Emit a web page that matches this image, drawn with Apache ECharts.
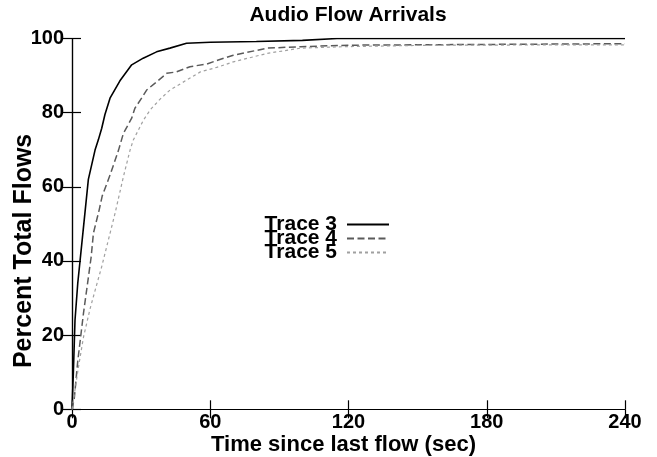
<!DOCTYPE html>
<html>
<head>
<meta charset="utf-8">
<script src="https://cdn.jsdelivr.net/npm/echarts@6/dist/echarts.min.js"></script>
<style>
html,body{margin:0;padding:0;background:#fff;}
#c{width:657px;height:457px;}
</style>
</head>
<body>
<div id="c"></div>
<script>
const xTicks = [0, 60, 120, 180, 240];
const yTicks = [0, 20, 40, 60, 80, 100];
const seriesNames = ['Trace 3', 'Trace 4', 'Trace 5'];

const trace3Time = [0, 0.6, 1.3, 2.5, 4.8, 7.1, 10, 11.4, 12.9, 14.3, 16.5, 20.8, 25.9, 30.9, 36.7, 42.5, 49.7, 60, 80, 100, 115, 240];
const trace3Pct  = [0, 10, 24, 34, 48, 62, 69.9, 72.6, 75.8, 79.5, 83.9, 88.6, 92.9, 94.7, 96.4, 97.4, 98.7, 99.0, 99.2, 99.5, 100, 100];

const trace4Time = [0, 1, 2.5, 5, 7.2, 8.3, 9.3, 11.8, 13.1, 16.7, 20.2, 22.3, 25.9, 27.3, 30.2, 32.4, 36.7, 41.1, 45.4, 51.2, 58.4, 63.5, 70, 84.8, 99.3, 121, 180, 240];
const trace4Pct  = [0, 3, 13, 26, 36, 41, 47.5, 53.8, 57.5, 63.5, 69.9, 74.4, 78.5, 81.2, 83.9, 86.1, 88.3, 90.6, 91, 92.4, 93.1, 94.2, 95.5, 97.4, 97.8, 98.2, 98.4, 98.6];

const trace5Time = [0, 1, 2.7, 5, 7.8, 10, 12.9, 15.8, 18.7, 22.3, 25.2, 26.6, 31, 34, 38, 42.5, 49.8, 55.7, 62.8, 70, 84.8, 99.3, 118, 157, 240];
const trace5Pct  = [0, 4, 11, 19.5, 27, 32, 38.5, 45.7, 52.9, 62.7, 69.9, 72.6, 78, 80.8, 83.5, 86.1, 88.8, 91, 92.2, 93.7, 96, 97.4, 97.8, 98.2, 98.3];

function pairs(xs, ys) { return xs.map((x, i) => [x, ys[i]]); }

const FONT = '"Liberation Sans", Arial, Helvetica, sans-serif';
const chart = echarts.init(document.getElementById('c'), null, {renderer: 'canvas'});

const axisCommon = {
  axisLine: {show: true, lineStyle: {color: '#000', width: 1.2}},
  axisTick: {show: true, inside: true, length: 9, lineStyle: {color: '#000', width: 1.2}},
  splitLine: {show: false},
  nameMoveOverlap: false
};

chart.setOption({
  animation: false,
  backgroundColor: '#fff',
  title: {
    text: 'Audio Flow Arrivals',
    left: 348, top: 5, textAlign: 'center', padding: 0,
    textStyle: {fontFamily: FONT, fontWeight: 'bold', fontSize: 21, color: '#000'}
  },
  grid: {left: 72, right: 32, top: 38.5, bottom: 47.7, containLabel: false, outerBoundsMode: 'none'},
  legend: {
    data: seriesNames,
    orient: 'vertical',
    align: 'right',
    right: 267, top: 214, padding: 0,
    itemWidth: 42, itemHeight: 14, itemGap: -7,
    itemStyle: {opacity: 0},
    textStyle: {fontFamily: FONT, fontWeight: 'bold', fontSize: 21, color: '#000', padding: [0, 5, 0, 0]}
  },
  xAxis: [
    Object.assign({
      type: 'value', position: 'bottom', min: xTicks[0], max: xTicks[xTicks.length - 1], interval: 60,
      name: 'Time since last flow (sec)', nameLocation: 'middle', nameGap: 25,
      nameTextStyle: {fontFamily: FONT, fontWeight: 'bold', fontSize: 22, color: '#000', padding: [0, 10, 0, 0]},
      axisLabel: {show: true, margin: 3, fontFamily: FONT, fontWeight: 'bold', fontSize: 20, color: '#000'}
    }, axisCommon),
    Object.assign({
      type: 'value', position: 'top', min: xTicks[0], max: xTicks[xTicks.length - 1], interval: 60,
      axisLabel: {show: false}
    }, axisCommon)
  ],
  yAxis: [
    Object.assign({
      type: 'value', position: 'left', min: yTicks[0], max: yTicks[yTicks.length - 1], interval: 20,
      name: 'Percent Total Flows', nameLocation: 'middle', nameGap: 35,
      nameTextStyle: {fontFamily: FONT, fontWeight: 'bold', fontSize: 25, color: '#000', padding: [0, 54, 0, 0]},
      axisLabel: {show: true, margin: 8, fontFamily: FONT, fontWeight: 'bold', fontSize: 20, color: '#000'}
    }, axisCommon),
    Object.assign({
      type: 'value', position: 'right', min: yTicks[0], max: yTicks[yTicks.length - 1], interval: 20,
      axisLabel: {show: false}
    }, axisCommon)
  ],
  series: [
    {
      name: seriesNames[0], type: 'line', symbol: 'none', xAxisIndex: 0, yAxisIndex: 0,
      data: pairs(trace3Time, trace3Pct),
      lineStyle: {color: '#000', width: 1.6, type: 'solid'}, itemStyle: {color: '#000'}
    },
    {
      name: seriesNames[1], type: 'line', symbol: 'none', xAxisIndex: 0, yAxisIndex: 0,
      data: pairs(trace4Time, trace4Pct),
      lineStyle: {color: '#5a5a5a', width: 1.5, type: [7, 3.5]}, itemStyle: {color: '#5a5a5a'}
    },
    {
      name: seriesNames[2], type: 'line', symbol: 'none', xAxisIndex: 0, yAxisIndex: 0,
      data: pairs(trace5Time, trace5Pct),
      lineStyle: {color: '#a0a0a0', width: 1.2, type: [3, 3]}, itemStyle: {color: '#a0a0a0'}
    }
  ]
});
</script>
</body>
</html>
